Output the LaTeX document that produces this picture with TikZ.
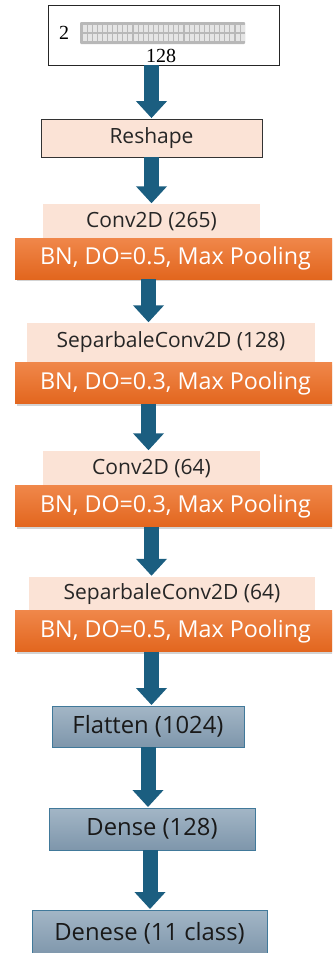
\documentclass[tikz,border=0pt]{standalone}
\usepackage{fontspec}
\setmainfont{Open Sans}
\newfontfamily\inputfont{Liberation Serif}
\usetikzlibrary{arrows.meta,shadows}

\definecolor{peach}{HTML}{FBE3D6}
\definecolor{orangetop}{HTML}{F0874A}
\definecolor{orangebot}{HTML}{E2661E}
\definecolor{flowblue}{HTML}{1B5E80}
\definecolor{boxtop}{HTML}{A3B6C6}
\definecolor{boxbot}{HTML}{7E96AB}
\definecolor{boxline}{HTML}{41799A}

\begin{document}
\begin{tikzpicture}[x=1pt, y=-1pt,
  layer/.style={fill=peach, minimum height=36pt, inner sep=0pt, font=\fontsize{21}{24}\selectfont, text=black!85},
  bnbar/.style={top color=orangetop, bottom color=orangebot, minimum width=321pt, minimum height=41pt, inner sep=0pt,
    drop shadow={opacity=0.35, shadow xshift=1.5pt, shadow yshift=-2pt}, text=white, font=\fontsize{23.3}{27}\selectfont},
  dense/.style={top color=boxtop, bottom color=boxbot, draw=boxline, line width=0.9pt, minimum height=41pt, inner sep=0pt,
    font=\fontsize{23.8}{27}\selectfont, text=black!90},
  flow/.style={draw=flowblue!80!black, line width=15pt, -{Triangle[width=30pt, length=17pt]}, flowblue, shorten >=0.5pt}]
\clip (0,0) rectangle (332,953);

% input sample
\node[draw=black!85, line width=0.8pt, minimum width=231pt, minimum height=60pt] (inp) at (163.5,35) {};
\node[font=\inputfont\fontsize{20}{22}\selectfont] (rows) at (64,33) {2};
\node[font=\inputfont\fontsize{20}{22}\selectfont] (cols) at (161,56) {128};
\fill[black!28, rounded corners=1pt] (80,22) rectangle (245,44);
\foreach \c in {0,...,31}
  \foreach \r in {0,1}
    \fill[white!90!black] (82.5+5.1*\c,24.5+9*\r) rectangle (86.5+5.1*\c,32+9*\r);

\node[layer, draw=black!80, line width=0.8pt, minimum width=221pt, minimum height=38pt] (reshape) at (151.5,138) {Reshape};

% conv blocks
\node[layer, minimum width=217pt] (conv1) at (151.5,222) {Conv2D (265)};
\node[bnbar] (bn1) at (175.5,258.5) {BN, DO=0.5, Max Pooling};

\node[layer, minimum width=288pt, minimum height=39pt] (sep1) at (171,342.5) {SeparbaleConv2D (128)};
\node[bnbar] (bn2) at (175.5,383) {BN, DO=0.3, Max Pooling};

\node[layer, minimum width=217pt] (conv2) at (151.5,469) {Conv2D (64)};
\node[bnbar] (bn3) at (175.5,506) {BN, DO=0.3, Max Pooling};

\node[layer, minimum width=286pt] (sep2) at (172,594.5) {SeparbaleConv2D (64)};
\node[bnbar] (bn4) at (175.5,631) {BN, DO=0.5, Max Pooling};

% dense head
\node[dense, minimum width=192pt] (flat) at (148,726.5) {Flatten (1024)};
\node[dense, minimum width=206pt, minimum height=42pt] (fc) at (152,829) {Dense (128)};
\node[dense, minimum width=235pt, minimum height=46pt] (out) at (149.5,933) {Denese (11 class)};

\draw[flow] (inp.south -| reshape) -- (reshape.north);
\draw[flow] (reshape.south) -- (conv1.north);
\draw[flow] ([xshift=-3pt]bn1.south -| conv1) -- ([xshift=-3pt]sep1.north -| conv1);
\draw[flow] ([xshift=-3pt]bn2.south -| conv2) -- ([xshift=-3pt]conv2.north);
\draw[flow] (bn3.south -| conv2) -- (sep2.north -| conv2);
\draw[flow] (bn4.south -| conv2) -- (flat.north -| conv2);
\draw[flow] (flat.south) -- (flat.south |- fc.north);
\draw[flow] ([xshift=-2pt]fc.south) -- ([xshift=-2pt]fc.south |- out.north);
\end{tikzpicture}
\end{document}
